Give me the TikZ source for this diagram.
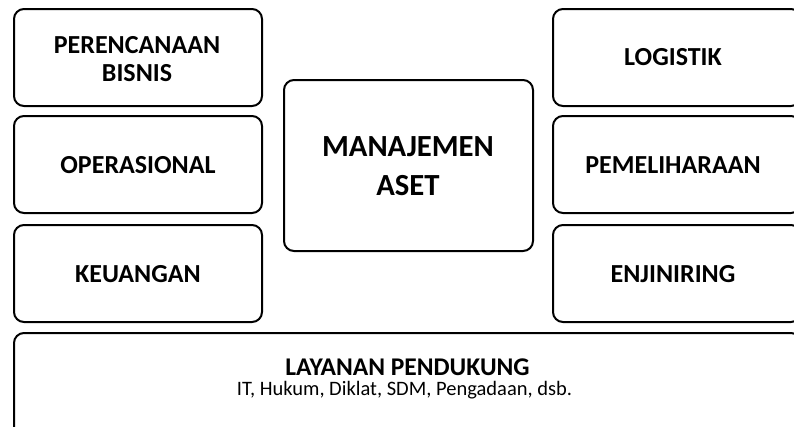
\documentclass[tikz,border=0pt]{standalone}
\usepackage{fontspec}
\setmainfont{Carlito}
\begin{document}
\begin{tikzpicture}[x=1pt,y=-1pt,
  box/.style={draw=black, line width=2pt, rounded corners=10pt, fill=white},
  lbl/.style={font=\bfseries\fontsize{26}{28.5}\selectfont, align=center, text=black, anchor=base, inner sep=0pt}]
\useasboundingbox (0,0) rectangle (794,426);
\clip (0,0) rectangle (794,426);
% left column
\draw[box] (14,9) rectangle (262,106);
\draw[box] (14,116) rectangle (262,213);
\draw[box] (14,225) rectangle (262,322);
% right column
\draw[box] (553,9) rectangle (801,106);
\draw[box] (553,116) rectangle (801,213);
\draw[box] (553,225) rectangle (801,322);
% center
\draw[box] (284,80) rectangle (533,251);
% bottom
\draw[box] (14,333) rectangle (801,440);
\node[lbl] (pb) at (137,81.7) {PERENCANAAN\\BISNIS};
\node[lbl] (op) at (138,173.5) {OPERASIONAL};
\node[lbl] (ke) at (138,282.5) {KEUANGAN};
\node[lbl] (lo) at (673,65.5) {LOGISTIK};
\node[lbl] (pe) at (673,173.5) {PEMELIHARAAN};
\node[lbl] (en) at (673,282.5) {ENJINIRING};
\node[lbl, font=\bfseries\fontsize{30.7}{39}\selectfont] (ma) at (408,195.7) {MANAJEMEN\\ASET};
\node[lbl, font=\bfseries\fontsize{25.5}{28}\selectfont] (la) at (407.5,375.5) {LAYANAN PENDUKUNG};
\node[lbl, font=\fontsize{20.5}{24}\selectfont] (sub) at (404.5,395.5) {IT, Hukum, Diklat, SDM, Pengadaan, dsb.};
\end{tikzpicture}
\end{document}
